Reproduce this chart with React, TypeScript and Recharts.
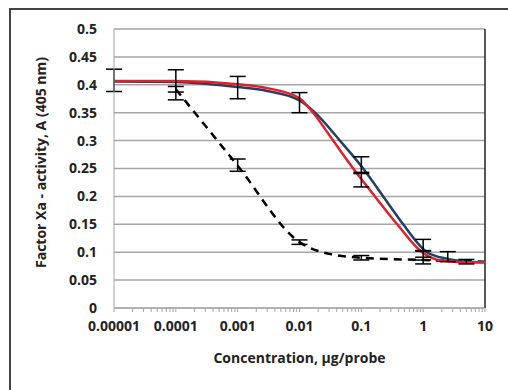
import React from "react";
import {
  ComposedChart, Line, Scatter, ErrorBar, XAxis, YAxis,
  CartesianGrid, ReferenceLine, Label,
} from "recharts";

// fitted curves (x = concentration, µg/probe)
const blueX = [0.00001, 0.0001, 0.001, 0.003, 0.01, 0.0178, 0.045, 0.107, 0.226, 0.475, 1.15, 2.5, 5, 10];
const blueY = [0.406, 0.405, 0.396, 0.389, 0.372, 0.35, 0.3, 0.25, 0.2, 0.15, 0.1, 0.088, 0.083, 0.082];

const redX = [0.00001, 0.0001, 0.001, 0.003, 0.01, 0.0166, 0.035, 0.074, 0.166, 0.38, 0.96, 2, 5, 10];
const redY = [0.407, 0.407, 0.401, 0.394, 0.376, 0.35, 0.3, 0.25, 0.2, 0.15, 0.1, 0.085, 0.082, 0.082];

const dashX = [0.0001, 0.001, 0.01, 0.03, 0.1, 1, 10];
const dashY = [0.392, 0.255, 0.118, 0.097, 0.09, 0.086, 0.083];

// measured points with error bars
const blueErrX = [0.00001, 0.0001, 0.001, 0.01, 0.1, 1, 2.5, 5];
const blueErrY = [0.408, 0.4, 0.395, 0.368, 0.257, 0.113, 0.092, 0.083];
const blueErrE = [0.02, 0.027, 0.02, 0.018, 0.014, 0.01, 0.009, 0.004];

const redErrX = [0.1, 1];
const redErrY = [0.229, 0.094];
const redErrE = [0.012, 0.008];

const dashErrX = [0.0001, 0.001, 0.01, 0.1, 1];
const dashErrY = [0.392, 0.256, 0.118, 0.09, 0.085];
const dashErrE = [0.005, 0.011, 0.004, 0.004, 0.006];

const majorTicks = [0.00001, 0.0001, 0.001, 0.01, 0.1, 1, 10];
const majorLabels = ["0.00001", "0.0001", "0.001", "0.01", "0.1", "1", "10"];
const minorMult = [2, 3, 4, 5, 6, 7, 8, 9];
const yTicks = [0, 0.05, 0.1, 0.15, 0.2, 0.25, 0.3, 0.35, 0.4, 0.45, 0.5];
const yLabels = ["0", "0.05", "0.1", "0.15", "0.2", "0.25", "0.3", "0.35", "0.4", "0.45", "0.5"];

const zip = (xs: number[], ys: number[]) => xs.map((x, i) => ({ x, y: ys[i] }));
const zipErr = (xs: number[], ys: number[], es: number[]) =>
  xs.map((x, i) => ({ x, y: ys[i], err: es[i] }));

const blueCurve = zip(blueX, blueY);
const redCurve = zip(redX, redY);
const dashCurve = zip(dashX, dashY);
const blueErr = zipErr(blueErrX, blueErrY, blueErrE);
const redErr = zipErr(redErrX, redErrY, redErrE);
const dashErr = zipErr(dashErrX, dashErrY, dashErrE);

const xTicks: number[] = [];
majorTicks.forEach((t, i) => {
  xTicks.push(t);
  if (i < majorTicks.length - 1) minorMult.forEach((m) => xTicks.push(+(t * m).toPrecision(3)));
});

const FONT = "'Open Sans', sans-serif";
const tickStyle = { fontSize: 14, fontWeight: 700, fill: "#222", fontFamily: FONT };
const noShape = () => <g />;

export default function App() {
  return (
    <div style={{ position: "absolute", left: 0, top: 0, width: 508, height: 390, overflow: "hidden", background: "#fff" }}>
      <div style={{ position: "absolute", left: 9, top: 8, width: 600, height: 500, border: "2px solid #444" }} />
      <ComposedChart
        width={508}
        height={390}
        margin={{ top: 29, right: 23, bottom: 0, left: 0 }}
        style={{ position: "absolute", left: 0, top: 0 }}
      >
        <CartesianGrid vertical={false} stroke="#a6a6a6" strokeWidth={1.5} />
        <XAxis
          dataKey="x"
          type="number"
          scale="log"
          domain={[0.00001, 10]}
          allowDataOverflow
          ticks={xTicks}
          interval={0}
          tickFormatter={(v: number) => {
            const i = majorTicks.indexOf(v);
            return i >= 0 ? majorLabels[i] : "";
          }}
          height={82}
          tickSize={4}
          tickMargin={9}
          stroke="#a6a6a6"
          tick={tickStyle}
        >
          <Label
            value="Concentration, µg/probe"
            position="insideBottom"
            offset={27}
            style={{ fontSize: 14, fontWeight: 700, fill: "#222", fontFamily: FONT }}
          />
        </XAxis>
        <YAxis
          type="number"
          domain={[0, 0.5]}
          ticks={yTicks}
          interval={0}
          tickFormatter={(v: number) => yLabels[yTicks.indexOf(v)] ?? String(v)}
          width={114}
          tickLine={false}
          tickMargin={11}
          stroke="#a6a6a6"
          tick={tickStyle}
        >
          <Label
            value="Factor Xa - activity, A (405 nm)"
            angle={-90}
            position="insideLeft"
            offset={41}
            dy={-6}
            style={{ textAnchor: "middle", fontSize: 14, fontWeight: 700, fill: "#222", fontFamily: FONT }}
          />
        </YAxis>
        <ReferenceLine x={10} stroke="#222" strokeWidth={1.5} />
        <Line data={dashCurve} dataKey="y" type="monotone" stroke="#000" strokeWidth={2.5}
          strokeDasharray="8 6" dot={false} isAnimationActive={false} />
        <Line data={blueCurve} dataKey="y" type="monotone" stroke="#243f60" strokeWidth={2.5}
          dot={false} isAnimationActive={false} />
        <Line data={redCurve} dataKey="y" type="monotone" stroke="#e2202b" strokeWidth={2.5}
          dot={false} isAnimationActive={false} />
        <Scatter data={blueErr} dataKey="y" shape={noShape} isAnimationActive={false}>
          <ErrorBar dataKey="err" direction="y" width={8} stroke="#000" strokeWidth={1.5} isAnimationActive={false} />
        </Scatter>
        <Scatter data={redErr} dataKey="y" shape={noShape} isAnimationActive={false}>
          <ErrorBar dataKey="err" direction="y" width={8} stroke="#000" strokeWidth={1.5} isAnimationActive={false} />
        </Scatter>
        <Scatter data={dashErr} dataKey="y" shape={noShape} isAnimationActive={false}>
          <ErrorBar dataKey="err" direction="y" width={8} stroke="#000" strokeWidth={1.5} isAnimationActive={false} />
        </Scatter>
      </ComposedChart>
    </div>
  );
}
